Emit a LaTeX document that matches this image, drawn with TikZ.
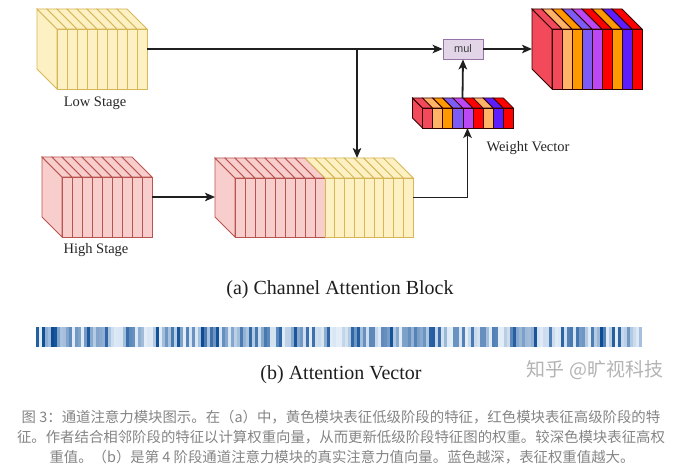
\documentclass[tikz,border=0pt]{standalone}
\usepackage{fontspec}
\setmainfont{Liberation Serif}
\newfontfamily\cjk{Noto Sans CJK SC}
\newfontfamily\sansf{Liberation Sans}
\usetikzlibrary{arrows.meta}
\definecolor{ylfill}{HTML}{FDF1C4}
\definecolor{ylline}{HTML}{D6B656}
\definecolor{rdfill}{HTML}{F8CECC}
\definecolor{rdline}{HTML}{B85450}
\definecolor{cpink}{HTML}{F24A5B}
\definecolor{clor}{HTML}{FFB366}
\definecolor{cor}{HTML}{FF9900}
\definecolor{cbp}{HTML}{7D5CF5}
\definecolor{cvi}{HTML}{BB47F5}
\definecolor{crd}{HTML}{FF0000}
\definecolor{cbl}{HTML}{5C1EFF}
\definecolor{mulfill}{HTML}{E1D5E7}
\definecolor{mulline}{HTML}{9673A6}
\definecolor{barblue}{HTML}{0A4A94}
\definecolor{barlight}{HTML}{E2EDF8}
\definecolor{captgray}{HTML}{858585}
\definecolor{wmgray}{HTML}{B4B4B4}
\definecolor{lblgray}{HTML}{262626}
\newcommand{\slabside}[5]{%
  \filldraw[fill=#5] (#1,#2) -- (#1-#4,#2-#4) -- (#1-#4,#2+#3-#4) -- (#1,#2+#3) -- cycle;}
\newcommand{\slabrow}[6]{%
  \foreach \c [count=\i from 0] in {#6}{%
    \pgfmathsetmacro\xa{#1+\i*#3}%
    \pgfmathsetmacro\xb{#1+(\i+1)*#3}%
    \filldraw[fill=\c] (\xa,#2) -- (\xb,#2) -- (\xb-#5,#2-#5) -- (\xa-#5,#2-#5) -- cycle;
    \filldraw[fill=\c] (\xa,#2) rectangle (\xb,#2+#4);
  }}
\tikzset{
  conn/.style={draw=black!88, line width=1.8pt, -{Stealth[length=10pt,width=8.5pt,inset=2.5pt]}},
  blockbox/.style={inner sep=0pt, outer sep=0pt, draw=none},
  lbl/.style={text=lblgray, font=\fontsize{14.5}{16}\selectfont, inner sep=0pt},
  title/.style={text=black!88, font=\fontsize{20}{22}\selectfont, inner sep=0pt},
  mulbox/.style={draw=mulline, fill=mulfill, line width=0.8pt, minimum width=40pt, minimum height=20pt, inner sep=0pt, text=black!75, font=\sansf\fontsize{11}{12}\selectfont},
  captxt/.style={text=captgray, font=\cjk\fontsize{14.4}{16}\selectfont, inner sep=0pt},
}
\begin{document}
\begin{tikzpicture}[x=1pt,y=-1pt]
\useasboundingbox (0,0) rectangle (683,476);
\fill[white] (0,0) rectangle (683,476);

% block placeholders (named)
\node[blockbox, minimum width=110pt, minimum height=80pt] (low) at (92,49) {};
\node[blockbox, minimum width=110pt, minimum height=80pt] (high) at (97,197) {};
\node[blockbox, minimum width=198pt, minimum height=79pt] (comb) at (314,197.5) {};
\node[blockbox, minimum width=101pt, minimum height=30pt] (wv) at (462.5,113) {};
\node[blockbox, minimum width=110pt, minimum height=80pt] (out) at (587,49) {};

% low stage block
\begin{scope}[draw=ylline, line width=0.8pt]
  \slabside{57}{29}{60}{20}{ylfill}
  \slabrow{57}{29}{10}{60}{20}{ylfill,ylfill,ylfill,ylfill,ylfill,ylfill,ylfill,ylfill,ylfill}
\end{scope}
% high stage block
\begin{scope}[draw=rdline, line width=0.8pt]
  \slabside{62}{177}{60}{20}{rdfill}
  \slabrow{62}{177}{10}{60}{20}{rdfill,rdfill,rdfill,rdfill,rdfill,rdfill,rdfill,rdfill,rdfill}
\end{scope}
% combined block
\begin{scope}[draw=rdline, line width=0.8pt]
  \slabside{235}{178}{59}{20}{rdfill}
  \slabrow{235}{178}{10}{59}{20}{rdfill,rdfill,rdfill,rdfill,rdfill,rdfill,rdfill,rdfill,rdfill}
\end{scope}
\begin{scope}[draw=ylline, line width=0.8pt]
  \slabrow{325}{178}{9.8}{59}{20}{ylfill,ylfill,ylfill,ylfill,ylfill,ylfill,ylfill,ylfill,ylfill}
\end{scope}
% output block
\begin{scope}[draw=black!80!red, line width=0.8pt]
  \slabside{552}{29}{60}{20}{cpink}
  \slabrow{552}{29}{10}{60}{20}{cpink,clor,cor,cbp,cvi,crd,cor,cbl,crd}
\end{scope}
% weight vector
\begin{scope}[draw=black!80!red, line width=0.8pt]
  \slabside{422.5}{108}{20}{10}{cpink}
  \slabrow{422.5}{108}{10.1}{20}{10}{cpink,clor,cor,cbp,cvi,crd,clor,cbl,crd}
\end{scope}

% mul
\node[mulbox] (mul) at (463,49) {mul};

% labels
\node[lbl] (lowlbl) at (95,103) {Low Stage};
\node[lbl] (highlbl) at (96,250) {High Stage};
\node[lbl] (wvlbl) at (528,148) {Weight Vector};

% connectors
\coordinate (br) at (357,49);
\coordinate (wvin) at (467.5,128);
\draw[conn] (low.east) -- (mul.west);
\draw[conn] (br) -- (br |- comb.north);
\draw[conn] (high.east) -- (high.east -| comb.west);
\draw[conn] (comb.east) -| (wvin);
\draw[conn] (wv.north) -- (mul.south);
\draw[conn] (mul.east) -- (out.west);

% titles
\node[title] (ta) at (340,290) {(a) Channel Attention Block};
\node[title] (tb) at (341,375) {(b) Attention Vector};

% attention vector bar
\node[blockbox, minimum width=606pt, minimum height=20pt] (bar) at (339,337) {};
\fill[barlight] (36,327) rectangle (642,347);
\pgfmathsetseed{20}
\foreach \i in {0,...,201}{%
  \pgfmathsetmacro\t{int(100*rnd^1.7)}%
  \fill[barblue!\t!barlight] (36+3*\i,327) rectangle (39+3*\i,347);
}

% watermark
\node[text=wmgray, font=\cjk\fontsize{19}{21}\selectfont, inner sep=0pt] (wm) at (595,370) {知乎 @旷视科技};

% caption
\node[captxt] (c1) at (341,417) {图 3：通道注意力模块图示。在（a）中，黄色模块表征低级阶段的特征，红色模块表征高级阶段的特};
\node[captxt] (c2) at (341,437) {征。作者结合相邻阶段的特征以计算权重向量，从而更新低级阶段特征图的权重。较深色模块表征高权};
\node[captxt] (c3) at (342,457) {重值。（b）是第 4 阶段通道注意力模块的真实注意力值向量。蓝色越深，表征权重值越大。};
\end{tikzpicture}
\end{document}
